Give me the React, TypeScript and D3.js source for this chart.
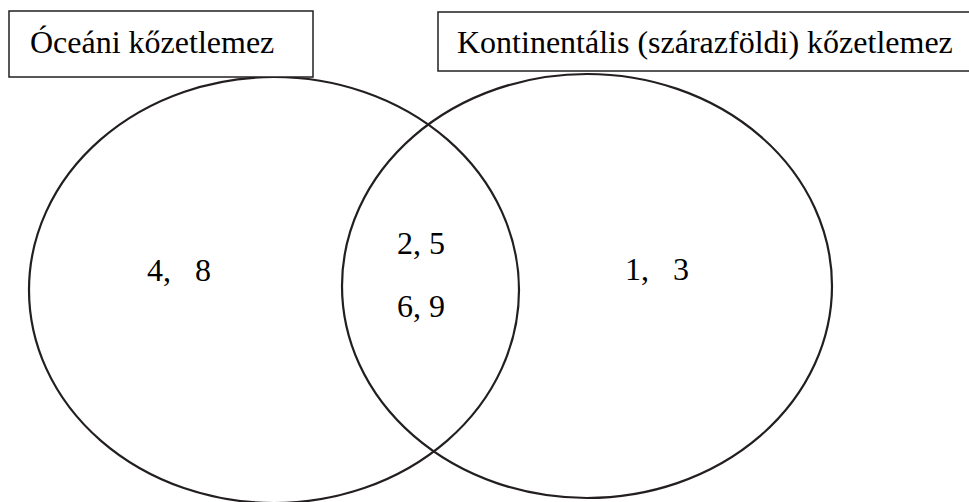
import React from "react";
import * as d3 from "d3";

// set names (header boxes) and the members written in each region
const setNames = ["Óceáni kőzetlemez", "Kontinentális (szárazföldi) kőzetlemez"];
const onlyOceanic = ["4,   8"];
const both = ["2, 5", "6, 9"];
const onlyContinental = ["1,   3"];

const W = 969;
const H = 502;
const ink = "#231f20";
const font = '"Liberation Serif", "Times New Roman", "DejaVu Serif", serif';

const App = () => {
  // centres of the two sets in the picture's pixel space
  const x = d3.scaleLinear().domain([0, 1]).range([274, 587]);

  const circles = [
    { cx: x(0), cy: 290, rx: 245, ry: 213 },
    { cx: x(1), cy: 286, rx: 245, ry: 212 },
  ];

  const boxes = [
    { x: 9, y: 11, w: 304, h: 66, tx: 30 },
    { x: 438, y: 12, w: 540, h: 59, tx: 457 },
  ];

  const regions = [
    { items: onlyOceanic, x: 147, y0: 281 },
    { items: both, x: 397, y0: 254 },
    { items: onlyContinental, x: 625, y0: 280 },
  ];

  return (
    <svg width={W} height={H} style={{ position: "absolute", left: 0, top: 0, background: "#fff" }}>
      {circles.map((c, i) => (
        <ellipse key={i} cx={c.cx} cy={c.cy} rx={c.rx} ry={c.ry} fill="none" stroke={ink} strokeWidth={2.2} />
      ))}
      {boxes.map((b, i) => (
        <g key={i}>
          <rect x={b.x} y={b.y} width={b.w} height={b.h} fill="#fff" stroke={ink} strokeWidth={1.5} />
          <text x={b.tx} y={53} fill="#000" style={{ fontFamily: font, fontSize: 32 }}>
            {setNames[i]}
          </text>
        </g>
      ))}
      {regions.map((r, i) =>
        r.items.map((t, j) => (
          <text
            key={i + "-" + j}
            x={r.x}
            y={r.y0 + j * 63}
            fill="#000"
            style={{ fontFamily: font, fontSize: 32, whiteSpace: "pre" }}
          >
            {t}
          </text>
        ))
      )}
    </svg>
  );
};

export default App;
